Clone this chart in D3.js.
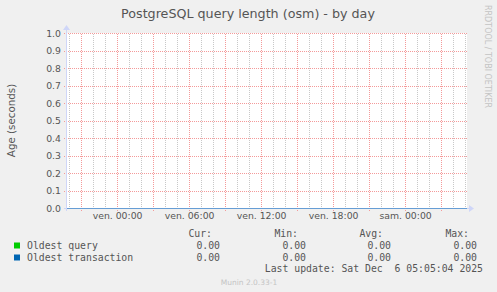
<!DOCTYPE html>
<html>
<head>
<meta charset="utf-8">
<script src="https://cdn.jsdelivr.net/npm/d3@7"></script>
<style>
  html, body { margin: 0; padding: 0; background: #f0f0f0; }
  svg { display: block; }
</style>
</head>
<body>
<div id="chart"></div>
<script>
// data
var sampleTimes = ['2025-12-04T19:52:00Z', '2025-12-05T01:52:00Z', '2025-12-05T07:52:00Z',
                   '2025-12-05T13:52:00Z', '2025-12-05T19:52:00Z', '2025-12-06T01:52:00Z',
                   '2025-12-06T05:12:00Z'];
var oldestQuery = [0, 0, 0, 0, 0, 0, 0];
var oldestTransaction = [0, 0, 0, 0, 0, 0, 0];
var seriesNames = ['Oldest query', 'Oldest transaction'];
var seriesColors = ['#00cc00', '#0066b3'];
var yTicks = [0, 0.1, 0.2, 0.3, 0.4, 0.5, 0.6, 0.7, 0.8, 0.9, 1.0];
var statHeaders = ['Cur:', 'Min:', 'Avg:', 'Max:'];
var statQuery = ['0.00', '0.00', '0.00', '0.00'];
var statTransaction = ['0.00', '0.00', '0.00', '0.00'];
var lastUpdate = 'Last update: Sat Dec  6 05:05:04 2025';

(function() {
  'use strict';
  var W = 497, H = 292;
  var left = 67, right = 467, top = 33, bottom = 208;

  var fr = d3.timeFormatLocale({
    dateTime: '%A %e %B %Y à %X', date: '%d/%m/%Y', time: '%H:%M:%S',
    periods: ['AM', 'PM'],
    days: ['dimanche', 'lundi', 'mardi', 'mercredi', 'jeudi', 'vendredi', 'samedi'],
    shortDays: ['dim.', 'lun.', 'mar.', 'mer.', 'jeu.', 'ven.', 'sam.'],
    months: ['janvier', 'février', 'mars', 'avril', 'mai', 'juin', 'juillet', 'août', 'septembre', 'octobre', 'novembre', 'décembre'],
    shortMonths: ['janv.', 'févr.', 'mars', 'avr.', 'mai', 'juin', 'juil.', 'août', 'sept.', 'oct.', 'nov.', 'déc.']
  });
  var fmt = fr.utcFormat('%a %H:%M');

  var times = sampleTimes.map(function(s) { return new Date(s); });
  var x = d3.scaleUtc().domain(d3.extent(times)).range([left, right]);
  var y = d3.scaleLinear().domain([0, 1]).range([bottom, top]);

  var svg = d3.select('#chart').append('svg')
    .attr('width', W).attr('height', H)
    .style('font-family', '"DejaVu Sans", sans-serif');

  // dotted patterns for the grid (1 px on, 1 px off)
  var defs = svg.append('defs');
  function dots(id, color, vertical) {
    var p = defs.append('pattern').attr('id', id)
      .attr('patternUnits', 'userSpaceOnUse')
      .attr('width', vertical ? 1 : 2).attr('height', vertical ? 2 : 1);
    p.append('rect').attr('width', 1).attr('height', 1).attr('fill', color);
  }
  dots('minorV', '#c8c8c8', true);
  dots('majorV', '#f49a9a', true);
  dots('majorH', '#f49a9a', false);

  svg.append('rect').attr('width', W).attr('height', H).attr('fill', '#f0f0f0');
  svg.append('rect').attr('x', left).attr('y', top)
    .attr('width', right - left).attr('height', bottom - top).attr('fill', '#fff');

  var hours = x.ticks(d3.utcHour.every(1));
  var majors = x.ticks(d3.utcHour.every(3));
  var majorSet = majors.map(function(d) { return +d; });
  var minors = hours.filter(function(d) { return majorSet.indexOf(+d) < 0; });

  // minor vertical grid (hourly)
  svg.append('g').selectAll('rect')
    .data(minors)
    .join('rect')
      .attr('x', function(d) { return Math.round(x(d)); })
      .attr('y', top).attr('width', 1).attr('height', bottom - top + 2)
      .attr('fill', 'url(#minorV)');

  // major vertical grid
  svg.append('g').selectAll('rect')
    .data(majors)
    .join('rect')
      .attr('x', function(d) { return Math.round(x(d)); })
      .attr('y', top).attr('width', 1).attr('height', bottom - top + 3)
      .attr('fill', 'url(#majorV)');

  // horizontal grid
  svg.append('g').selectAll('rect')
    .data(yTicks)
    .join('rect')
      .attr('x', left - 3).attr('width', right - left + 3)
      .attr('y', function(d) { return Math.round(y(d)); }).attr('height', 1)
      .attr('fill', 'url(#majorH)');

  // y tick labels
  svg.append('g').selectAll('text')
    .data(yTicks)
    .join('text')
      .attr('x', left - 6)
      .attr('y', function(d) { return y(d) + 3.5; })
      .attr('text-anchor', 'end')
      .attr('font-size', 9.3)
      .attr('fill', '#555')
      .text(function(d) { return d.toFixed(1); });

  // x tick labels
  svg.append('g').selectAll('text')
    .data(x.ticks(d3.utcHour.every(6)))
    .join('text')
      .attr('x', function(d) { return x(d) + 1; })
      .attr('y', bottom + 11)
      .attr('text-anchor', 'middle')
      .attr('font-size', 9.3)
      .attr('fill', '#555')
      .text(function(d) { return fmt(d); });

  // axes with arrows
  var axisColor = '#cfd6f8';
  svg.append('line').attr('x1', left - 0.5).attr('x2', left - 0.5)
    .attr('y1', bottom + 3).attr('y2', top - 5).attr('stroke', axisColor);
  svg.append('path').attr('d', 'M' + (left - 4) + ',' + (top - 3) + 'L' + (left - 0.5) + ',' + (top - 8) + 'L' + (left + 3) + ',' + (top - 3) + 'Z')
    .attr('fill', axisColor);
  svg.append('line').attr('x1', left - 3).attr('x2', right + 4)
    .attr('y1', bottom + 0.5).attr('y2', bottom + 0.5).attr('stroke', axisColor);
  svg.append('path').attr('d', 'M' + (right + 2) + ',' + (bottom - 3) + 'L' + (right + 7) + ',' + (bottom + 0.5) + 'L' + (right + 2) + ',' + (bottom + 4) + 'Z')
    .attr('fill', axisColor);

  // series lines (blue drawn last, covers green)
  var line = d3.line()
    .x(function(d, i) { return x(times[i]); })
    .y(function(d) { return Math.round(y(d)) + 0.5; });
  var lines = svg.append('g').attr('opacity', 0.5);
  [oldestQuery, oldestTransaction].forEach(function(vals, i) {
    lines.append('path').datum(vals)
      .attr('d', line)
      .attr('fill', 'none')
      .attr('stroke', seriesColors[i])
      .attr('stroke-width', 1);
  });

  // title
  svg.append('text').attr('x', 248).attr('y', 18)
    .attr('text-anchor', 'middle').attr('font-size', 12.7).attr('fill', '#555')
    .text('PostgreSQL query length (osm) - by day');

  // y label
  svg.append('text')
    .attr('transform', 'translate(15,' + ((top + bottom) / 2) + ') rotate(-90)')
    .attr('text-anchor', 'middle').attr('font-size', 10.3).attr('fill', '#555')
    .text('Age (seconds)');

  // watermark on the right
  svg.append('text')
    .attr('transform', 'translate(485,56.5) rotate(90)')
    .attr('text-anchor', 'middle').attr('font-size', 8).attr('fill', '#c4c4c4')
    .text('RRDTOOL / TOBI OETIKER');

  // legend
  var mono = '"DejaVu Sans Mono", monospace';
  var headRight = [212, 298, 383, 469];
  var valRight = [220, 306, 391, 477];
  var rowsY = [249, 261];

  svg.append('g').selectAll('text')
    .data(statHeaders)
    .join('text')
      .attr('x', function(d, i) { return headRight[i]; })
      .attr('y', 237)
      .attr('text-anchor', 'end')
      .attr('font-family', mono).attr('font-size', 9.8).attr('fill', '#555')
      .text(function(d) { return d; });

  [statQuery, statTransaction].forEach(function(stats, r) {
    var g = svg.append('g');
    g.append('rect').attr('x', 14).attr('y', rowsY[r] - 6.5)
      .attr('width', 6).attr('height', 6).attr('fill', seriesColors[r]);
    g.append('text').attr('x', 27).attr('y', rowsY[r])
      .attr('font-family', mono).attr('font-size', 9.8).attr('fill', '#555')
      .text(seriesNames[r]);
    g.selectAll('text.v')
      .data(stats)
      .join('text')
        .attr('class', 'v')
        .attr('x', function(d, i) { return valRight[i]; })
        .attr('y', rowsY[r])
        .attr('text-anchor', 'end')
        .attr('font-family', mono).attr('font-size', 9.8).attr('fill', '#555')
        .text(function(d) { return d; });
  });

  svg.append('text').attr('x', 483).attr('y', 272)
    .attr('text-anchor', 'end')
    .style('white-space', 'pre')
    .attr('font-family', mono).attr('font-size', 9.8).attr('fill', '#555')
    .text(lastUpdate);

  svg.append('text').attr('x', 249).attr('y', 285)
    .attr('text-anchor', 'middle').attr('font-size', 7.5).attr('fill', '#c4c4c4')
    .text('Munin 2.0.33-1');
})();
</script>
</body>
</html>
